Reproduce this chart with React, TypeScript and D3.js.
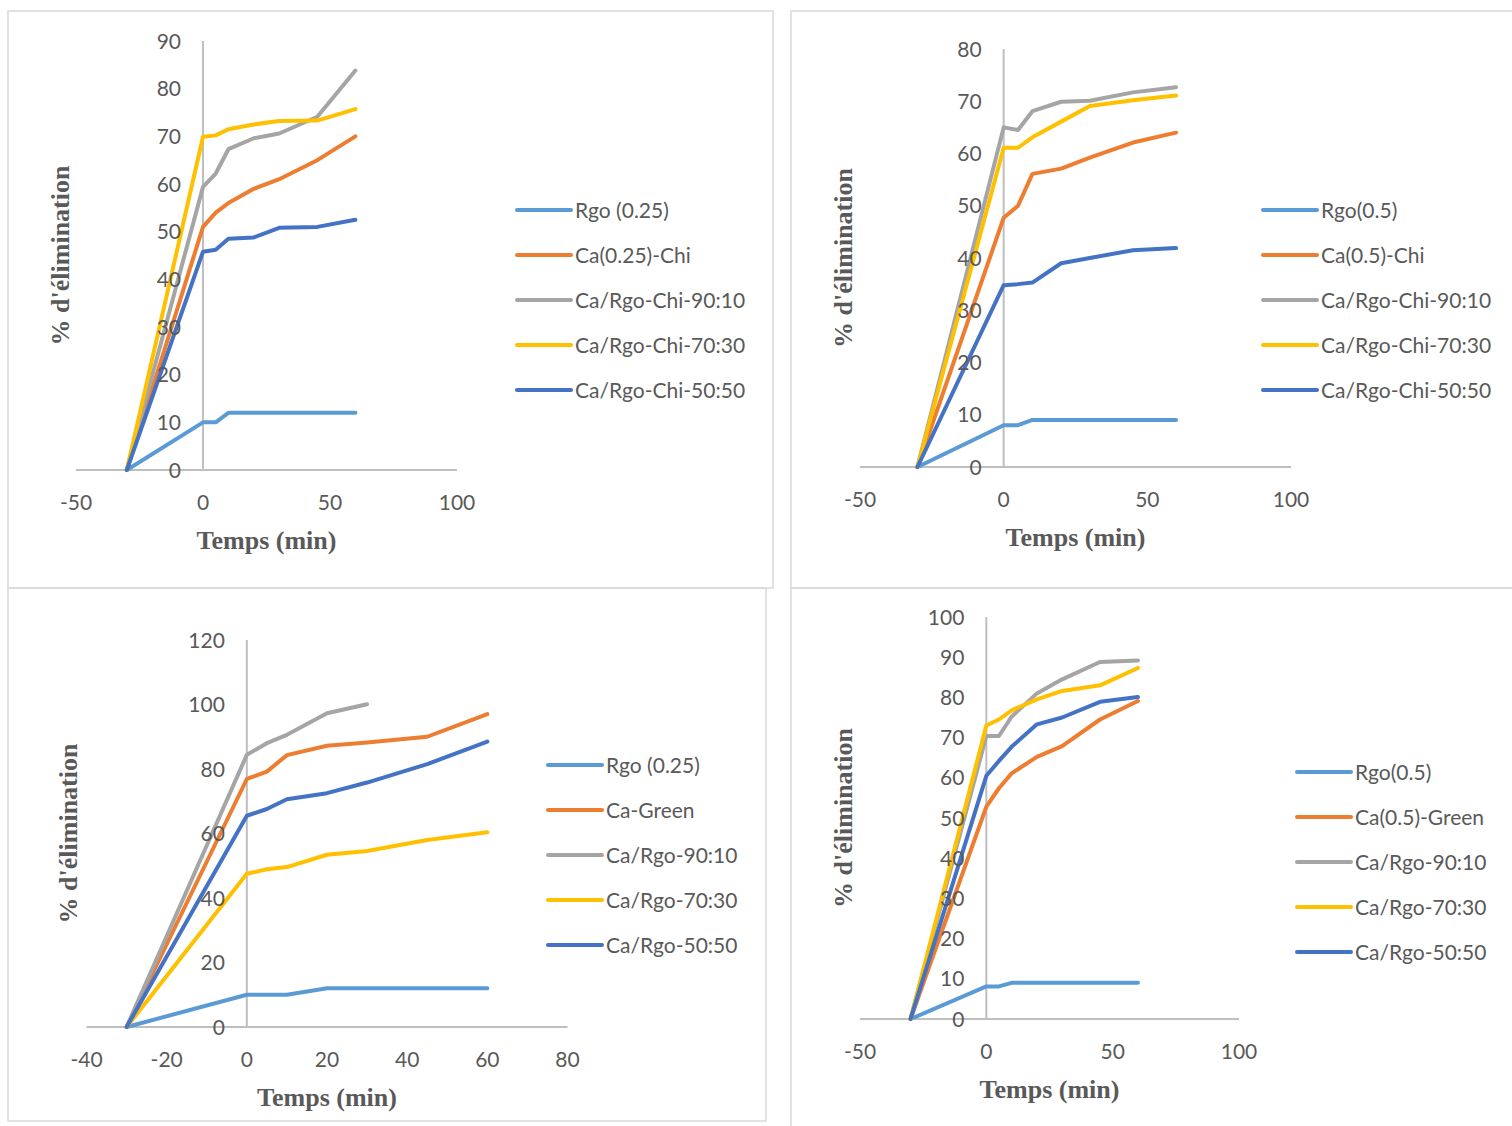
import React, { useEffect, useRef } from "react";
import * as d3 from "d3";

// temps (min) of the measures
const times = [-30, 0, 5, 10, 20, 30, 45, 60];

// panel 1 : Chi, 0.25
const p1Names = ["Rgo (0.25)", "Ca(0.25)-Chi", "Ca/Rgo-Chi-90:10", "Ca/Rgo-Chi-70:30", "Ca/Rgo-Chi-50:50"];
const p1Rgo = [0, 10, 10, 12, 12, 12, 12, 12];
const p1Ca = [0, 51, 54, 56, 59, 61, 65, 70];
const p1R9010 = [0, 59.4, 62.2, 67.3, 69.6, 70.6, 74.1, 83.8];
const p1R7030 = [0, 69.9, 70.2, 71.5, 72.5, 73.2, 73.3, 75.7];
const p1R5050 = [0, 45.8, 46.2, 48.5, 48.8, 50.8, 51.0, 52.5];

// panel 2 : Chi, 0.5
const p2Names = ["Rgo(0.5)", "Ca(0.5)-Chi", "Ca/Rgo-Chi-90:10", "Ca/Rgo-Chi-70:30", "Ca/Rgo-Chi-50:50"];
const p2Rgo = [0, 8, 8, 9, 9, 9, 9, 9];
const p2Ca = [0, 47.7, 50, 56.1, 57.1, 59.2, 62.1, 64];
const p2R9010 = [0, 65, 64.5, 68.1, 69.9, 70.1, 71.7, 72.7];
const p2R7030 = [0, 61.1, 61.1, 63.1, 66.1, 69.1, 70.2, 71.1];
const p2R5050 = [0, 34.8, 35, 35.3, 39, 40, 41.5, 41.9];

// panel 3 : Green, 0.25
const p3Names = ["Rgo (0.25)", "Ca-Green", "Ca/Rgo-90:10", "Ca/Rgo-70:30", "Ca/Rgo-50:50"];
const p3Rgo = [0, 10, 10, 10, 12, 12, 12, 12];
const p3Ca = [0, 76.9, 79.2, 84.3, 87.2, 88.2, 90, 97];
const p3R9010 = [0, 84.4, 88, 90.6, 97.3, 100.1];
const p3R7030 = [0, 47.5, 48.9, 49.6, 53.4, 54.6, 58, 60.4];
const p3R5050 = [0, 65.5, 67.6, 70.6, 72.5, 75.8, 81.5, 88.5];

// panel 4 : Green, 0.5
const p4Names = ["Rgo(0.5)", "Ca(0.5)-Green", "Ca/Rgo-90:10", "Ca/Rgo-70:30", "Ca/Rgo-50:50"];
const p4Rgo = [0, 8.1, 8.1, 9, 9, 9, 9, 9];
const p4Ca = [0, 52.8, 57.4, 61.1, 65.2, 67.9, 74.5, 79.1];
const p4R9010 = [0, 70.4, 70.4, 75.2, 81, 84.5, 88.8, 89.2];
const p4R7030 = [0, 73, 74.5, 76.8, 79.5, 81.6, 83, 87.3];
const p4R5050 = [0, 60.5, 64.2, 67.7, 73.3, 75, 78.9, 80.1];

const colors = ["#5B9BD5", "#ED7D31", "#A5A5A5", "#FFC000", "#4472C4"];

const panels = [
  {
    names: p1Names, series: [p1Rgo, p1Ca, p1R9010, p1R7030, p1R5050],
    xDomain: [-50, 100], xTicks: [-50, 0, 50, 100], xRange: [76, 457],
    yDomain: [0, 90], yStep: 10, yRange: [470, 41],
    legX: 517, legY: 210, yTitleX: 60,
  },
  {
    names: p2Names, series: [p2Rgo, p2Ca, p2R9010, p2R7030, p2R5050],
    xDomain: [-50, 100], xTicks: [-50, 0, 50, 100], xRange: [860, 1291],
    yDomain: [0, 80], yStep: 10, yRange: [467, 49],
    legX: 1263, legY: 210, yTitleX: 843,
  },
  {
    names: p3Names, series: [p3Rgo, p3Ca, p3R9010, p3R7030, p3R5050],
    xDomain: [-40, 80], xTicks: [-40, -20, 0, 20, 40, 60, 80], xRange: [86.5, 567.5],
    yDomain: [0, 120], yStep: 20, yRange: [1027, 640],
    legX: 548, legY: 765, yTitleX: 68,
  },
  {
    names: p4Names, series: [p4Rgo, p4Ca, p4R9010, p4R7030, p4R5050],
    xDomain: [-50, 100], xTicks: [-50, 0, 50, 100], xRange: [860, 1239],
    yDomain: [0, 100], yStep: 10, yRange: [1019, 617],
    legX: 1297, legY: 772, yTitleX: 843,
  },
];

const App = () => {
  const ref = useRef<SVGSVGElement>(null);

  useEffect(() => {
    const svg = d3.select(ref.current);
    svg.selectAll("*").remove();

    const border = "#D9D9D9";
    const axisColor = "#BFBFBF";
    const textColor = "#595959";
    const sans = "Lato, 'Open Sans', sans-serif";
    const serif = "'Liberation Serif', 'Times New Roman', serif";

    // panel frames
    const frames = svg.append("g").attr("fill", "none").attr("stroke", border).attr("stroke-width", 1.5);
    frames.append("rect").attr("x", 8).attr("y", 11).attr("width", 765).attr("height", 577);
    frames.append("rect").attr("x", 791).attr("y", 11).attr("width", 740).attr("height", 577);
    frames.append("rect").attr("x", 8).attr("y", 588).attr("width", 758).attr("height", 533);
    frames.append("rect").attr("x", 791).attr("y", 588).attr("width", 740).attr("height", 560);

    panels.forEach((p) => {
      const g = svg.append("g");
      const x = d3.scaleLinear().domain(p.xDomain).range(p.xRange);
      const y = d3.scaleLinear().domain(p.yDomain).range(p.yRange);
      const yTicks = d3.range(p.yDomain[0], p.yDomain[1] + 0.1, p.yStep);

      // axes lines
      g.append("line")
        .attr("x1", x(p.xDomain[0])).attr("x2", x(p.xDomain[1]))
        .attr("y1", y(0)).attr("y2", y(0))
        .attr("stroke", axisColor).attr("stroke-width", 2);
      g.append("line")
        .attr("x1", x(0)).attr("x2", x(0))
        .attr("y1", y(0)).attr("y2", y(p.yDomain[1]))
        .attr("stroke", axisColor).attr("stroke-width", 2);

      // series
      const line = d3.line<number>()
        .x((d, i) => x(times[i]))
        .y((d) => y(d));
      p.series.forEach((s, i) => {
        g.append("path")
          .datum(s)
          .attr("d", line)
          .attr("fill", "none")
          .attr("stroke", colors[i])
          .attr("stroke-width", 4)
          .attr("stroke-linejoin", "round")
          .attr("stroke-linecap", "round");
      });

      // tick labels (drawn on top like excel)
      g.selectAll(".ytick")
        .data(yTicks)
        .enter()
        .append("text")
        .attr("x", x(0) - 22)
        .attr("y", (d) => y(d) - 1)
        .attr("text-anchor", "end")
        .attr("dominant-baseline", "central")
        .style("font-family", sans)
        .style("font-size", "21px")
        .style("fill", textColor)
        .text((d) => d);

      g.selectAll(".xtick")
        .data(p.xTicks)
        .enter()
        .append("text")
        .attr("x", (d) => x(d))
        .attr("y", y(0) + 31)
        .attr("text-anchor", "middle")
        .attr("dominant-baseline", "central")
        .style("font-family", sans)
        .style("font-size", "21px")
        .style("fill", textColor)
        .text((d) => d);

      // titles
      g.append("text")
        .attr("x", (p.xRange[0] + p.xRange[1]) / 2)
        .attr("y", y(0) + 70)
        .attr("text-anchor", "middle")
        .attr("dominant-baseline", "central")
        .style("font-family", serif)
        .style("font-weight", "bold")
        .style("font-size", "26px")
        .style("fill", textColor)
        .text("Temps (min)");

      const yMid = (p.yRange[0] + p.yRange[1]) / 2;
      g.append("text")
        .attr("transform", "translate(" + p.yTitleX + "," + yMid + ") rotate(-90)")
        .attr("text-anchor", "middle")
        .attr("dominant-baseline", "central")
        .style("font-family", serif)
        .style("font-weight", "bold")
        .style("font-size", "26px")
        .style("fill", textColor)
        .text("% d'élimination");

      // legend
      const leg = g.append("g").attr("transform", "translate(" + p.legX + "," + p.legY + ")");
      p.names.forEach((n, i) => {
        leg.append("line")
          .attr("x1", 0).attr("x2", 54)
          .attr("y1", i * 45).attr("y2", i * 45)
          .attr("stroke", colors[i])
          .attr("stroke-width", 4)
          .attr("stroke-linecap", "round");
        leg.append("text")
          .attr("x", 58)
          .attr("y", i * 45 - 1)
          .attr("dominant-baseline", "central")
          .style("font-family", sans)
          .style("font-size", "21px")
          .style("fill", textColor)
          .text(n);
      });
    });
  }, []);

  return (
    <svg
      ref={ref}
      width={1512}
      height={1126}
      style={{ position: "absolute", left: 0, top: 0, background: "white" }}
    />
  );
};

export default App;
